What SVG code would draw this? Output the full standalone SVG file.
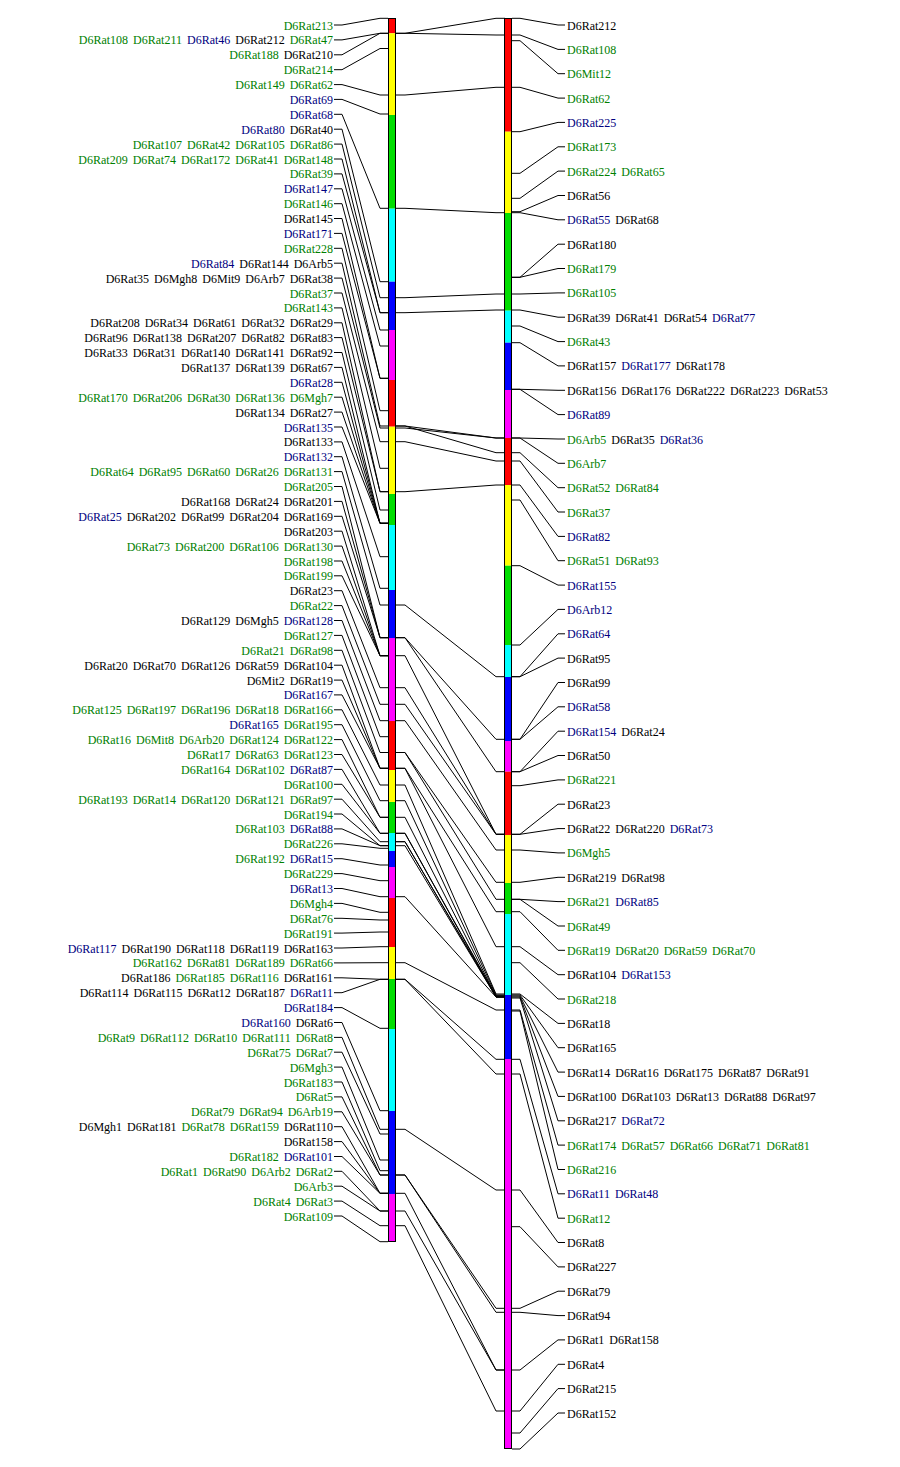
<svg xmlns="http://www.w3.org/2000/svg" width="900" height="1467" viewBox="0 0 900 1467">
<style>
text{font-family:"Liberation Serif","Times New Roman",serif;font-size:12px;word-spacing:2px;fill:#000}
.l{text-anchor:end}
.g{fill:#008000}
.b{fill:#000080}
polyline{fill:none;stroke:#000;stroke-width:1}
.out{fill:none;stroke:#000;stroke-width:1}
.R{fill:#ff0000}.Y{fill:#ffff00}.G{fill:#00dd00}.C{fill:#00ffff}.B{fill:#0000ff}.M{fill:#ff00ff}
</style>
<rect width="900" height="1467" fill="#fff"/>
<g id="left-bar">
<rect class="R" x="388" y="18" width="8" height="15.3"/>
<rect class="Y" x="388" y="33.3" width="8" height="81.7"/>
<rect class="G" x="388" y="115" width="8" height="93.7"/>
<rect class="C" x="388" y="208.7" width="8" height="73"/>
<rect class="B" x="388" y="281.7" width="8" height="48.3"/>
<rect class="M" x="388" y="330" width="8" height="50"/>
<rect class="R" x="388" y="380" width="8" height="46.7"/>
<rect class="Y" x="388" y="426.7" width="8" height="67.3"/>
<rect class="G" x="388" y="494" width="8" height="31"/>
<rect class="C" x="388" y="525" width="8" height="65"/>
<rect class="B" x="388" y="590" width="8" height="48"/>
<rect class="M" x="388" y="638" width="8" height="83"/>
<rect class="R" x="388" y="721" width="8" height="49"/>
<rect class="Y" x="388" y="770" width="8" height="32"/>
<rect class="G" x="388" y="802" width="8" height="31"/>
<rect class="C" x="388" y="833" width="8" height="18"/>
<rect class="B" x="388" y="851" width="8" height="16"/>
<rect class="M" x="388" y="867" width="8" height="31"/>
<rect class="R" x="388" y="898" width="8" height="49"/>
<rect class="Y" x="388" y="947" width="8" height="32"/>
<rect class="G" x="388" y="979" width="8" height="50"/>
<rect class="C" x="388" y="1029" width="8" height="82"/>
<rect class="B" x="388" y="1111" width="8" height="83"/>
<rect class="M" x="388" y="1194" width="8" height="48"/>
<rect class="out" x="388.5" y="18.5" width="7" height="1223"/>
</g>
<g id="right-bar">
<rect class="R" x="504" y="18" width="8" height="113.7"/>
<rect class="Y" x="504" y="131.7" width="8" height="81.3"/>
<rect class="G" x="504" y="213" width="8" height="97.7"/>
<rect class="C" x="504" y="310.7" width="8" height="32"/>
<rect class="B" x="504" y="342.7" width="8" height="47.3"/>
<rect class="M" x="504" y="390" width="8" height="48"/>
<rect class="R" x="504" y="438" width="8" height="47"/>
<rect class="Y" x="504" y="485" width="8" height="80.7"/>
<rect class="G" x="504" y="565.7" width="8" height="79.3"/>
<rect class="C" x="504" y="645" width="8" height="32"/>
<rect class="B" x="504" y="677" width="8" height="64"/>
<rect class="M" x="504" y="741" width="8" height="30.7"/>
<rect class="R" x="504" y="771.7" width="8" height="63.3"/>
<rect class="Y" x="504" y="835" width="8" height="48"/>
<rect class="G" x="504" y="883" width="8" height="31"/>
<rect class="C" x="504" y="914" width="8" height="81"/>
<rect class="B" x="504" y="995" width="8" height="64"/>
<rect class="M" x="504" y="1059" width="8" height="390"/>
<rect class="out" x="504.5" y="18.5" width="7" height="1430"/>
</g>
<g id="connectors">
<polyline points="334,25 342,25 380,18.3 388,18.3"/>
<polyline points="334,39.9 342,39.9 380,33.3 388,33.3"/>
<polyline points="334,54.8 342,54.8 380,33.3 388,33.3"/>
<polyline points="334,69.7 342,69.7 380,48.5 388,48.5"/>
<polyline points="334,84.6 342,84.6 380,95 388,95"/>
<polyline points="334,99.4 342,99.4 380,114 388,114"/>
<polyline points="334,114.3 342,114.3 380,208.3 388,208.3"/>
<polyline points="334,129.2 342,129.2 380,281.7 388,281.7"/>
<polyline points="334,144.1 342,144.1 380,297.7 388,297.7"/>
<polyline points="334,159 342,159 380,312.7 388,312.7"/>
<polyline points="334,173.9 342,173.9 380,312.7 388,312.7"/>
<polyline points="334,188.8 342,188.8 380,330 388,330"/>
<polyline points="334,203.7 342,203.7 380,346 388,346"/>
<polyline points="334,218.5 342,218.5 380,378.3 388,378.3"/>
<polyline points="334,233.4 342,233.4 380,378.3 388,378.3"/>
<polyline points="334,248.3 342,248.3 380,410.7 388,410.7"/>
<polyline points="334,263.2 342,263.2 380,426 388,426"/>
<polyline points="334,278.1 342,278.1 380,428 388,428"/>
<polyline points="334,293 342,293 380,441.7 388,441.7"/>
<polyline points="334,307.9 342,307.9 380,468.3 388,468.3"/>
<polyline points="334,322.8 342,322.8 380,491.7 388,491.7"/>
<polyline points="334,337.6 342,337.6 380,491.7 388,491.7"/>
<polyline points="334,352.5 342,352.5 380,510 388,510"/>
<polyline points="334,367.4 342,367.4 380,523.3 388,523.3"/>
<polyline points="334,382.3 342,382.3 380,523.3 388,523.3"/>
<polyline points="334,397.2 342,397.2 380,523.3 388,523.3"/>
<polyline points="334,412.1 342,412.1 380,523.3 388,523.3"/>
<polyline points="334,427 342,427 380,523.3 388,523.3"/>
<polyline points="334,441.9 342,441.9 380,556.7 388,556.7"/>
<polyline points="334,456.7 342,456.7 380,588.3 388,588.3"/>
<polyline points="334,471.6 342,471.6 380,605 388,605"/>
<polyline points="334,486.5 342,486.5 380,637.7 388,637.7"/>
<polyline points="334,501.4 342,501.4 380,637.7 388,637.7"/>
<polyline points="334,516.3 342,516.3 380,637.7 388,637.7"/>
<polyline points="334,531.2 342,531.2 380,655.7 388,655.7"/>
<polyline points="334,546.1 342,546.1 380,655.7 388,655.7"/>
<polyline points="334,561 342,561 380,655.7 388,655.7"/>
<polyline points="334,575.8 342,575.8 380,655.7 388,655.7"/>
<polyline points="334,590.7 342,590.7 380,687.7 388,687.7"/>
<polyline points="334,605.6 342,605.6 380,704.3 388,704.3"/>
<polyline points="334,620.5 342,620.5 380,720.7 388,720.7"/>
<polyline points="334,635.4 342,635.4 380,736.7 388,736.7"/>
<polyline points="334,650.3 342,650.3 380,752.5 388,752.5"/>
<polyline points="334,665.2 342,665.2 380,768.3 388,768.3"/>
<polyline points="334,680.1 342,680.1 380,768.3 388,768.3"/>
<polyline points="334,694.9 342,694.9 380,768.3 388,768.3"/>
<polyline points="334,709.8 342,709.8 380,785 388,785"/>
<polyline points="334,724.7 342,724.7 380,800.7 388,800.7"/>
<polyline points="334,739.6 342,739.6 380,817.3 388,817.3"/>
<polyline points="334,754.5 342,754.5 380,817.3 388,817.3"/>
<polyline points="334,769.4 342,769.4 380,833.3 388,833.3"/>
<polyline points="334,784.3 342,784.3 380,833.3 388,833.3"/>
<polyline points="334,799.2 342,799.2 380,841.7 388,841.7"/>
<polyline points="334,814 342,814 380,845.7 388,845.7"/>
<polyline points="334,828.9 342,828.9 380,845.7 388,845.7"/>
<polyline points="334,843.8 342,843.8 380,848.3 388,848.3"/>
<polyline points="334,858.7 342,858.7 380,865 388,865"/>
<polyline points="334,873.6 342,873.6 380,880.7 388,880.7"/>
<polyline points="334,888.5 342,888.5 380,896.7 388,896.7"/>
<polyline points="334,903.4 342,903.4 380,912.3 388,912.3"/>
<polyline points="334,918.3 342,918.3 380,920 388,920"/>
<polyline points="334,933.1 342,933.1 380,932 388,932"/>
<polyline points="334,948 342,948 380,946.7 388,946.7"/>
<polyline points="334,962.9 342,962.9 380,962.7 388,962.7"/>
<polyline points="334,977.8 342,977.8 380,979.3 388,979.3"/>
<polyline points="334,992.7 342,992.7 380,979.3 388,979.3"/>
<polyline points="334,1007.6 342,1007.6 380,1028.3 388,1028.3"/>
<polyline points="334,1022.5 342,1022.5 380,1110.7 388,1110.7"/>
<polyline points="334,1037.4 342,1037.4 380,1129.3 388,1129.3"/>
<polyline points="334,1052.2 342,1052.2 380,1134 388,1134"/>
<polyline points="334,1067.1 342,1067.1 380,1160 388,1160"/>
<polyline points="334,1082 342,1082 380,1170.7 388,1170.7"/>
<polyline points="334,1096.9 342,1096.9 380,1175 388,1175"/>
<polyline points="334,1111.8 342,1111.8 380,1175 388,1175"/>
<polyline points="334,1126.7 342,1126.7 380,1193.3 388,1193.3"/>
<polyline points="334,1141.6 342,1141.6 380,1193.3 388,1193.3"/>
<polyline points="334,1156.5 342,1156.5 380,1193.3 388,1193.3"/>
<polyline points="334,1171.3 342,1171.3 380,1211 388,1211"/>
<polyline points="334,1186.2 342,1186.2 380,1211 388,1211"/>
<polyline points="334,1201.1 342,1201.1 380,1225.7 388,1225.7"/>
<polyline points="334,1216 342,1216 380,1241.7 388,1241.7"/>
<polyline points="396,33.3 405,33.3 496,18.3 505,18.3"/>
<polyline points="396,33.3 405,33.3 496,35 505,35"/>
<polyline points="396,95 405,95 496,87.3 505,87.3"/>
<polyline points="396,208.3 405,208.3 496,212.7 505,212.7"/>
<polyline points="396,297.7 405,297.7 496,294 505,294"/>
<polyline points="396,312.7 405,312.7 496,310 505,310"/>
<polyline points="396,426 405,426 496,438 505,438"/>
<polyline points="396,428 405,428 496,438 505,438"/>
<polyline points="396,426 405,426 496,452.7 505,452.7"/>
<polyline points="396,441.7 405,441.7 496,461 505,461"/>
<polyline points="396,491.7 405,491.7 496,485 505,485"/>
<polyline points="396,605 405,605 496,676.7 505,676.7"/>
<polyline points="396,637.7 405,637.7 496,739.3 505,739.3"/>
<polyline points="396,637.7 405,637.7 496,771.7 505,771.7"/>
<polyline points="396,655.7 405,655.7 496,834.3 505,834.3"/>
<polyline points="396,687.7 405,687.7 496,834.3 505,834.3"/>
<polyline points="396,704.3 405,704.3 496,834.3 505,834.3"/>
<polyline points="396,720.7 405,720.7 496,850 505,850"/>
<polyline points="396,752.5 405,752.5 496,882.3 505,882.3"/>
<polyline points="396,752.5 405,752.5 496,899.3 505,899.3"/>
<polyline points="396,768.3 405,768.3 496,911.7 505,911.7"/>
<polyline points="396,768.3 405,768.3 496,946.7 505,946.7"/>
<polyline points="396,785 405,785 496,994 505,994"/>
<polyline points="396,800.7 405,800.7 496,995 505,995"/>
<polyline points="396,817.3 405,817.3 496,996 505,996"/>
<polyline points="396,833.3 405,833.3 496,996 505,996"/>
<polyline points="396,833.3 405,833.3 496,997 505,997"/>
<polyline points="396,841.7 405,841.7 496,996 505,996"/>
<polyline points="396,841.7 405,841.7 496,997 505,997"/>
<polyline points="396,845.7 405,845.7 496,997 505,997"/>
<polyline points="396,896.7 405,896.7 496,997 505,997"/>
<polyline points="396,962.7 405,962.7 496,1010 505,1010"/>
<polyline points="396,979.3 405,979.3 496,1059.3 505,1059.3"/>
<polyline points="396,979.3 405,979.3 496,1074 505,1074"/>
<polyline points="396,1129.3 405,1129.3 496,1190 505,1190"/>
<polyline points="396,1175 405,1175 496,1308.3 505,1308.3"/>
<polyline points="396,1175 405,1175 496,1312.3 505,1312.3"/>
<polyline points="396,1193.3 405,1193.3 496,1370 505,1370"/>
<polyline points="396,1211 405,1211 496,1370 505,1370"/>
<polyline points="396,1225.7 405,1225.7 496,1411 505,1411"/>
<polyline points="512,18.3 520,18.3 558,25 565,25"/>
<polyline points="512,35 520,35 558,49.4 565,49.4"/>
<polyline points="512,40.7 520,40.7 558,73.7 565,73.7"/>
<polyline points="512,87.3 520,87.3 558,98.1 565,98.1"/>
<polyline points="512,131.7 520,131.7 558,122.4 565,122.4"/>
<polyline points="512,173.3 520,173.3 558,146.8 565,146.8"/>
<polyline points="512,198.3 520,198.3 558,171.1 565,171.1"/>
<polyline points="512,211.7 520,211.7 558,195.5 565,195.5"/>
<polyline points="512,212.7 520,212.7 558,219.8 565,219.8"/>
<polyline points="512,277.3 520,277.3 558,244.2 565,244.2"/>
<polyline points="512,277.3 520,277.3 558,268.5 565,268.5"/>
<polyline points="512,294 520,294 558,292.9 565,292.9"/>
<polyline points="512,310 520,310 558,317.2 565,317.2"/>
<polyline points="512,326 520,326 558,341.6 565,341.6"/>
<polyline points="512,342.7 520,342.7 558,365.9 565,365.9"/>
<polyline points="512,389.3 520,389.3 558,390.3 565,390.3"/>
<polyline points="512,389.3 520,389.3 558,414.6 565,414.6"/>
<polyline points="512,438 520,438 558,439 565,439"/>
<polyline points="512,438 520,438 558,463.3 565,463.3"/>
<polyline points="512,452.7 520,452.7 558,487.7 565,487.7"/>
<polyline points="512,461 520,461 558,512 565,512"/>
<polyline points="512,485 520,485 558,536.4 565,536.4"/>
<polyline points="512,500 520,500 558,560.7 565,560.7"/>
<polyline points="512,565.7 520,565.7 558,585.1 565,585.1"/>
<polyline points="512,645 520,645 558,609.4 565,609.4"/>
<polyline points="512,676.7 520,676.7 558,633.8 565,633.8"/>
<polyline points="512,676.7 520,676.7 558,658.1 565,658.1"/>
<polyline points="512,739.3 520,739.3 558,682.5 565,682.5"/>
<polyline points="512,739.3 520,739.3 558,706.8 565,706.8"/>
<polyline points="512,771.7 520,771.7 558,731.2 565,731.2"/>
<polyline points="512,771.7 520,771.7 558,755.5 565,755.5"/>
<polyline points="512,785.7 520,785.7 558,779.9 565,779.9"/>
<polyline points="512,834.3 520,834.3 558,804.2 565,804.2"/>
<polyline points="512,834.3 520,834.3 558,828.6 565,828.6"/>
<polyline points="512,850 520,850 558,852.9 565,852.9"/>
<polyline points="512,882.3 520,882.3 558,877.3 565,877.3"/>
<polyline points="512,899.3 520,899.3 558,901.6 565,901.6"/>
<polyline points="512,899.3 520,899.3 558,926 565,926"/>
<polyline points="512,911.7 520,911.7 558,950.3 565,950.3"/>
<polyline points="512,946.7 520,946.7 558,974.7 565,974.7"/>
<polyline points="512,962.7 520,962.7 558,999 565,999"/>
<polyline points="512,994 520,994 558,1023.4 565,1023.4"/>
<polyline points="512,995 520,995 558,1047.7 565,1047.7"/>
<polyline points="512,996 520,996 558,1072.1 565,1072.1"/>
<polyline points="512,997 520,997 558,1096.4 565,1096.4"/>
<polyline points="512,998 520,998 558,1120.8 565,1120.8"/>
<polyline points="512,1010 520,1010 558,1145.1 565,1145.1"/>
<polyline points="512,1011 520,1011 558,1169.5 565,1169.5"/>
<polyline points="512,1059.3 520,1059.3 558,1193.8 565,1193.8"/>
<polyline points="512,1074 520,1074 558,1218.2 565,1218.2"/>
<polyline points="512,1190 520,1190 558,1242.5 565,1242.5"/>
<polyline points="512,1226.7 520,1226.7 558,1266.9 565,1266.9"/>
<polyline points="512,1308.3 520,1308.3 558,1291.2 565,1291.2"/>
<polyline points="512,1312.3 520,1312.3 558,1315.6 565,1315.6"/>
<polyline points="512,1370 520,1370 558,1339.9 565,1339.9"/>
<polyline points="512,1411 520,1411 558,1364.3 565,1364.3"/>
<polyline points="512,1433 520,1433 558,1388.6 565,1388.6"/>
<polyline points="512,1449 520,1449 558,1413 565,1413"/>
</g>
<g id="left-labels">
<g id="L1"><text class="l" x="333" y="29.5"><tspan class="g">D6Rat213</tspan></text></g>
<g id="L2"><text class="l" x="333" y="44.4"><tspan class="g">D6Rat108 D6Rat211 </tspan><tspan class="b">D6Rat46 </tspan>D6Rat212 <tspan class="g">D6Rat47</tspan></text></g>
<g id="L3"><text class="l" x="333" y="59.3"><tspan class="g">D6Rat188 </tspan>D6Rat210</text></g>
<g id="L4"><text class="l" x="333" y="74.2"><tspan class="g">D6Rat214</tspan></text></g>
<g id="L5"><text class="l" x="333" y="89.1"><tspan class="g">D6Rat149 D6Rat62</tspan></text></g>
<g id="L6"><text class="l" x="333" y="103.9"><tspan class="b">D6Rat69</tspan></text></g>
<g id="L7"><text class="l" x="333" y="118.8"><tspan class="b">D6Rat68</tspan></text></g>
<g id="L8"><text class="l" x="333" y="133.7"><tspan class="b">D6Rat80 </tspan>D6Rat40</text></g>
<g id="L9"><text class="l" x="333" y="148.6"><tspan class="g">D6Rat107 D6Rat42 D6Rat105 D6Rat86</tspan></text></g>
<g id="L10"><text class="l" x="333" y="163.5"><tspan class="g">D6Rat209 D6Rat74 D6Rat172 D6Rat41 D6Rat148</tspan></text></g>
<g id="L11"><text class="l" x="333" y="178.4"><tspan class="g">D6Rat39</tspan></text></g>
<g id="L12"><text class="l" x="333" y="193.3"><tspan class="b">D6Rat147</tspan></text></g>
<g id="L13"><text class="l" x="333" y="208.2"><tspan class="g">D6Rat146</tspan></text></g>
<g id="L14"><text class="l" x="333" y="223">D6Rat145</text></g>
<g id="L15"><text class="l" x="333" y="237.9"><tspan class="b">D6Rat171</tspan></text></g>
<g id="L16"><text class="l" x="333" y="252.8"><tspan class="g">D6Rat228</tspan></text></g>
<g id="L17"><text class="l" x="333" y="267.7"><tspan class="b">D6Rat84 </tspan>D6Rat144 D6Arb5</text></g>
<g id="L18"><text class="l" x="333" y="282.6">D6Rat35 D6Mgh8 D6Mit9 D6Arb7 D6Rat38</text></g>
<g id="L19"><text class="l" x="333" y="297.5"><tspan class="g">D6Rat37</tspan></text></g>
<g id="L20"><text class="l" x="333" y="312.4"><tspan class="g">D6Rat143</tspan></text></g>
<g id="L21"><text class="l" x="333" y="327.3">D6Rat208 D6Rat34 D6Rat61 D6Rat32 D6Rat29</text></g>
<g id="L22"><text class="l" x="333" y="342.1">D6Rat96 D6Rat138 D6Rat207 D6Rat82 D6Rat83</text></g>
<g id="L23"><text class="l" x="333" y="357">D6Rat33 D6Rat31 D6Rat140 D6Rat141 D6Rat92</text></g>
<g id="L24"><text class="l" x="333" y="371.9">D6Rat137 D6Rat139 D6Rat67</text></g>
<g id="L25"><text class="l" x="333" y="386.8"><tspan class="b">D6Rat28</tspan></text></g>
<g id="L26"><text class="l" x="333" y="401.7"><tspan class="g">D6Rat170 D6Rat206 D6Rat30 D6Rat136 D6Mgh7</tspan></text></g>
<g id="L27"><text class="l" x="333" y="416.6">D6Rat134 D6Rat27</text></g>
<g id="L28"><text class="l" x="333" y="431.5"><tspan class="b">D6Rat135</tspan></text></g>
<g id="L29"><text class="l" x="333" y="446.4">D6Rat133</text></g>
<g id="L30"><text class="l" x="333" y="461.2"><tspan class="b">D6Rat132</tspan></text></g>
<g id="L31"><text class="l" x="333" y="476.1"><tspan class="g">D6Rat64 D6Rat95 D6Rat60 D6Rat26 D6Rat131</tspan></text></g>
<g id="L32"><text class="l" x="333" y="491"><tspan class="g">D6Rat205</tspan></text></g>
<g id="L33"><text class="l" x="333" y="505.9">D6Rat168 D6Rat24 D6Rat201</text></g>
<g id="L34"><text class="l" x="333" y="520.8"><tspan class="b">D6Rat25 </tspan>D6Rat202 D6Rat99 D6Rat204 D6Rat169</text></g>
<g id="L35"><text class="l" x="333" y="535.7">D6Rat203</text></g>
<g id="L36"><text class="l" x="333" y="550.6"><tspan class="g">D6Rat73 D6Rat200 D6Rat106 D6Rat130</tspan></text></g>
<g id="L37"><text class="l" x="333" y="565.5"><tspan class="g">D6Rat198</tspan></text></g>
<g id="L38"><text class="l" x="333" y="580.3"><tspan class="g">D6Rat199</tspan></text></g>
<g id="L39"><text class="l" x="333" y="595.2">D6Rat23</text></g>
<g id="L40"><text class="l" x="333" y="610.1"><tspan class="g">D6Rat22</tspan></text></g>
<g id="L41"><text class="l" x="333" y="625">D6Rat129 D6Mgh5 <tspan class="b">D6Rat128</tspan></text></g>
<g id="L42"><text class="l" x="333" y="639.9"><tspan class="g">D6Rat127</tspan></text></g>
<g id="L43"><text class="l" x="333" y="654.8"><tspan class="g">D6Rat21 D6Rat98</tspan></text></g>
<g id="L44"><text class="l" x="333" y="669.7">D6Rat20 D6Rat70 D6Rat126 D6Rat59 D6Rat104</text></g>
<g id="L45"><text class="l" x="333" y="684.6">D6Mit2 D6Rat19</text></g>
<g id="L46"><text class="l" x="333" y="699.4"><tspan class="b">D6Rat167</tspan></text></g>
<g id="L47"><text class="l" x="333" y="714.3"><tspan class="g">D6Rat125 D6Rat197 D6Rat196 D6Rat18 D6Rat166</tspan></text></g>
<g id="L48"><text class="l" x="333" y="729.2"><tspan class="b">D6Rat165 </tspan><tspan class="g">D6Rat195</tspan></text></g>
<g id="L49"><text class="l" x="333" y="744.1"><tspan class="g">D6Rat16 D6Mit8 D6Arb20 D6Rat124 D6Rat122</tspan></text></g>
<g id="L50"><text class="l" x="333" y="759"><tspan class="g">D6Rat17 D6Rat63 D6Rat123</tspan></text></g>
<g id="L51"><text class="l" x="333" y="773.9"><tspan class="g">D6Rat164 D6Rat102 </tspan><tspan class="b">D6Rat87</tspan></text></g>
<g id="L52"><text class="l" x="333" y="788.8"><tspan class="g">D6Rat100</tspan></text></g>
<g id="L53"><text class="l" x="333" y="803.7"><tspan class="g">D6Rat193 D6Rat14 D6Rat120 D6Rat121 D6Rat97</tspan></text></g>
<g id="L54"><text class="l" x="333" y="818.5"><tspan class="g">D6Rat194</tspan></text></g>
<g id="L55"><text class="l" x="333" y="833.4"><tspan class="g">D6Rat103 </tspan><tspan class="b">D6Rat88</tspan></text></g>
<g id="L56"><text class="l" x="333" y="848.3"><tspan class="g">D6Rat226</tspan></text></g>
<g id="L57"><text class="l" x="333" y="863.2"><tspan class="g">D6Rat192 </tspan><tspan class="b">D6Rat15</tspan></text></g>
<g id="L58"><text class="l" x="333" y="878.1"><tspan class="g">D6Rat229</tspan></text></g>
<g id="L59"><text class="l" x="333" y="893"><tspan class="b">D6Rat13</tspan></text></g>
<g id="L60"><text class="l" x="333" y="907.9"><tspan class="g">D6Mgh4</tspan></text></g>
<g id="L61"><text class="l" x="333" y="922.8"><tspan class="g">D6Rat76</tspan></text></g>
<g id="L62"><text class="l" x="333" y="937.6"><tspan class="g">D6Rat191</tspan></text></g>
<g id="L63"><text class="l" x="333" y="952.5"><tspan class="b">D6Rat117 </tspan>D6Rat190 D6Rat118 D6Rat119 D6Rat163</text></g>
<g id="L64"><text class="l" x="333" y="967.4"><tspan class="g">D6Rat162 D6Rat81 D6Rat189 D6Rat66</tspan></text></g>
<g id="L65"><text class="l" x="333" y="982.3">D6Rat186 <tspan class="g">D6Rat185 D6Rat116 </tspan>D6Rat161</text></g>
<g id="L66"><text class="l" x="333" y="997.2">D6Rat114 D6Rat115 D6Rat12 D6Rat187 <tspan class="b">D6Rat11</tspan></text></g>
<g id="L67"><text class="l" x="333" y="1012.1"><tspan class="b">D6Rat184</tspan></text></g>
<g id="L68"><text class="l" x="333" y="1027"><tspan class="b">D6Rat160 </tspan>D6Rat6</text></g>
<g id="L69"><text class="l" x="333" y="1041.9"><tspan class="g">D6Rat9 D6Rat112 D6Rat10 D6Rat111 D6Rat8</tspan></text></g>
<g id="L70"><text class="l" x="333" y="1056.7"><tspan class="g">D6Rat75 D6Rat7</tspan></text></g>
<g id="L71"><text class="l" x="333" y="1071.6"><tspan class="g">D6Mgh3</tspan></text></g>
<g id="L72"><text class="l" x="333" y="1086.5"><tspan class="g">D6Rat183</tspan></text></g>
<g id="L73"><text class="l" x="333" y="1101.4"><tspan class="g">D6Rat5</tspan></text></g>
<g id="L74"><text class="l" x="333" y="1116.3"><tspan class="g">D6Rat79 D6Rat94 D6Arb19</tspan></text></g>
<g id="L75"><text class="l" x="333" y="1131.2">D6Mgh1 D6Rat181 <tspan class="g">D6Rat78 D6Rat159 </tspan>D6Rat110</text></g>
<g id="L76"><text class="l" x="333" y="1146.1">D6Rat158</text></g>
<g id="L77"><text class="l" x="333" y="1161"><tspan class="g">D6Rat182 </tspan><tspan class="b">D6Rat101</tspan></text></g>
<g id="L78"><text class="l" x="333" y="1175.8"><tspan class="g">D6Rat1 D6Rat90 D6Arb2 D6Rat2</tspan></text></g>
<g id="L79"><text class="l" x="333" y="1190.7"><tspan class="g">D6Arb3</tspan></text></g>
<g id="L80"><text class="l" x="333" y="1205.6"><tspan class="g">D6Rat4 D6Rat3</tspan></text></g>
<g id="L81"><text class="l" x="333" y="1220.5"><tspan class="g">D6Rat109</tspan></text></g>
</g>
<g id="right-labels">
<g id="R1"><text x="567" y="29.5">D6Rat212</text></g>
<g id="R2"><text x="567" y="53.9"><tspan class="g">D6Rat108</tspan></text></g>
<g id="R3"><text x="567" y="78.2"><tspan class="g">D6Mit12</tspan></text></g>
<g id="R4"><text x="567" y="102.6"><tspan class="g">D6Rat62</tspan></text></g>
<g id="R5"><text x="567" y="126.9"><tspan class="b">D6Rat225</tspan></text></g>
<g id="R6"><text x="567" y="151.3"><tspan class="g">D6Rat173</tspan></text></g>
<g id="R7"><text x="567" y="175.6"><tspan class="g">D6Rat224 D6Rat65</tspan></text></g>
<g id="R8"><text x="567" y="200">D6Rat56</text></g>
<g id="R9"><text x="567" y="224.3"><tspan class="b">D6Rat55 </tspan>D6Rat68</text></g>
<g id="R10"><text x="567" y="248.7">D6Rat180</text></g>
<g id="R11"><text x="567" y="273"><tspan class="g">D6Rat179</tspan></text></g>
<g id="R12"><text x="567" y="297.4"><tspan class="g">D6Rat105</tspan></text></g>
<g id="R13"><text x="567" y="321.7">D6Rat39 D6Rat41 D6Rat54 <tspan class="b">D6Rat77</tspan></text></g>
<g id="R14"><text x="567" y="346.1"><tspan class="g">D6Rat43</tspan></text></g>
<g id="R15"><text x="567" y="370.4">D6Rat157 <tspan class="b">D6Rat177 </tspan>D6Rat178</text></g>
<g id="R16"><text x="567" y="394.8">D6Rat156 D6Rat176 D6Rat222 D6Rat223 D6Rat53</text></g>
<g id="R17"><text x="567" y="419.1"><tspan class="b">D6Rat89</tspan></text></g>
<g id="R18"><text x="567" y="443.5"><tspan class="g">D6Arb5 </tspan>D6Rat35 <tspan class="b">D6Rat36</tspan></text></g>
<g id="R19"><text x="567" y="467.8"><tspan class="g">D6Arb7</tspan></text></g>
<g id="R20"><text x="567" y="492.2"><tspan class="g">D6Rat52 D6Rat84</tspan></text></g>
<g id="R21"><text x="567" y="516.5"><tspan class="g">D6Rat37</tspan></text></g>
<g id="R22"><text x="567" y="540.9"><tspan class="b">D6Rat82</tspan></text></g>
<g id="R23"><text x="567" y="565.2"><tspan class="g">D6Rat51 D6Rat93</tspan></text></g>
<g id="R24"><text x="567" y="589.6"><tspan class="b">D6Rat155</tspan></text></g>
<g id="R25"><text x="567" y="613.9"><tspan class="b">D6Arb12</tspan></text></g>
<g id="R26"><text x="567" y="638.3"><tspan class="b">D6Rat64</tspan></text></g>
<g id="R27"><text x="567" y="662.6">D6Rat95</text></g>
<g id="R28"><text x="567" y="687">D6Rat99</text></g>
<g id="R29"><text x="567" y="711.3"><tspan class="b">D6Rat58</tspan></text></g>
<g id="R30"><text x="567" y="735.7"><tspan class="b">D6Rat154 </tspan>D6Rat24</text></g>
<g id="R31"><text x="567" y="760">D6Rat50</text></g>
<g id="R32"><text x="567" y="784.4"><tspan class="g">D6Rat221</tspan></text></g>
<g id="R33"><text x="567" y="808.7">D6Rat23</text></g>
<g id="R34"><text x="567" y="833.1">D6Rat22 D6Rat220 <tspan class="b">D6Rat73</tspan></text></g>
<g id="R35"><text x="567" y="857.4"><tspan class="g">D6Mgh5</tspan></text></g>
<g id="R36"><text x="567" y="881.8">D6Rat219 D6Rat98</text></g>
<g id="R37"><text x="567" y="906.1"><tspan class="g">D6Rat21 </tspan><tspan class="b">D6Rat85</tspan></text></g>
<g id="R38"><text x="567" y="930.5"><tspan class="g">D6Rat49</tspan></text></g>
<g id="R39"><text x="567" y="954.8"><tspan class="g">D6Rat19 D6Rat20 D6Rat59 D6Rat70</tspan></text></g>
<g id="R40"><text x="567" y="979.2">D6Rat104 <tspan class="b">D6Rat153</tspan></text></g>
<g id="R41"><text x="567" y="1003.5"><tspan class="g">D6Rat218</tspan></text></g>
<g id="R42"><text x="567" y="1027.9">D6Rat18</text></g>
<g id="R43"><text x="567" y="1052.2">D6Rat165</text></g>
<g id="R44"><text x="567" y="1076.6">D6Rat14 D6Rat16 D6Rat175 D6Rat87 D6Rat91</text></g>
<g id="R45"><text x="567" y="1100.9">D6Rat100 D6Rat103 D6Rat13 D6Rat88 D6Rat97</text></g>
<g id="R46"><text x="567" y="1125.3">D6Rat217 <tspan class="b">D6Rat72</tspan></text></g>
<g id="R47"><text x="567" y="1149.6"><tspan class="g">D6Rat174 D6Rat57 D6Rat66 D6Rat71 D6Rat81</tspan></text></g>
<g id="R48"><text x="567" y="1174"><tspan class="g">D6Rat216</tspan></text></g>
<g id="R49"><text x="567" y="1198.3"><tspan class="b">D6Rat11 D6Rat48</tspan></text></g>
<g id="R50"><text x="567" y="1222.7"><tspan class="g">D6Rat12</tspan></text></g>
<g id="R51"><text x="567" y="1247">D6Rat8</text></g>
<g id="R52"><text x="567" y="1271.4">D6Rat227</text></g>
<g id="R53"><text x="567" y="1295.7">D6Rat79</text></g>
<g id="R54"><text x="567" y="1320.1">D6Rat94</text></g>
<g id="R55"><text x="567" y="1344.4">D6Rat1 D6Rat158</text></g>
<g id="R56"><text x="567" y="1368.8">D6Rat4</text></g>
<g id="R57"><text x="567" y="1393.1">D6Rat215</text></g>
<g id="R58"><text x="567" y="1417.5">D6Rat152</text></g>
</g>
</svg>
